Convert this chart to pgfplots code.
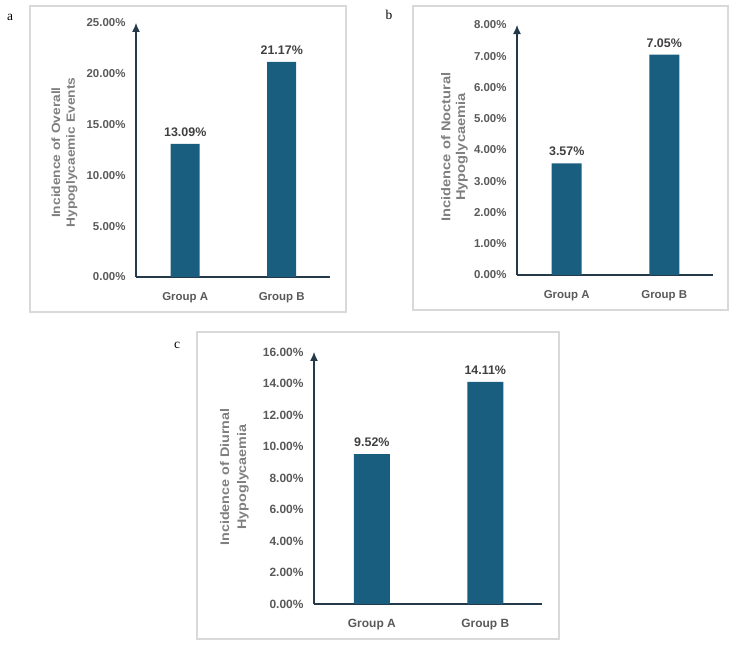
\documentclass[border=0pt]{standalone}
\usepackage{fontspec}
\setmainfont{Liberation Sans}
\newfontfamily\panelfont{Liberation Serif}
\newfontfamily\labelfont[FakeStretch=1.15]{Liberation Sans}
\usepackage{pgfplots}
\pgfplotsset{compat=1.18}
\usetikzlibrary{arrows.meta}

\definecolor{barblue}{HTML}{1A5E7F}
\definecolor{axisdark}{HTML}{24394A}
\definecolor{tickgray}{HTML}{595959}
\definecolor{labelgray}{HTML}{7F7F7F}
\definecolor{valuegray}{HTML}{404040}
\definecolor{framegray}{HTML}{D9D9D9}

\pgfplotsset{
  incidence/.style={
    scale only axis,
    anchor=south west,
    ybar,
    clip=false,
    axis x line*=bottom,
    axis y line*=left,
    x axis line style={-, draw=axisdark, line width=1.2bp},
    y axis line style={-{Latex[length=9bp,width=8bp]}, draw=axisdark, line width=1.2bp},
    major tick length=0pt,
    xmin=-0.51, xmax=1.5,
    xtick={0,1},
    xticklabels={Group A, Group B},
    ymin=0,
    enlarge x limits=false,
    enlarge y limits=false,
    ticklabel style={font=\bfseries\fontsize{11.5}{13}\selectfont, text=tickgray},
    yticklabel={\pgfmathprintnumber[fixed,fixed zerofill,precision=2,assume math mode=true]{\tick}\%},
    yticklabel style={xshift=-7bp},
    xticklabel style={yshift=-12bp},
    ylabel style={font=\labelfont\bfseries\fontsize{12}{15}\selectfont, text=labelgray, align=center, anchor=center},
    nodes near coords={\pgfmathprintnumber[fixed,fixed zerofill,precision=2,assume math mode=true]{\pgfplotspointmeta}\%},
    nodes near coords style={font=\bfseries\fontsize{12.5}{14}\selectfont, text=valuegray, yshift=4bp},
  },
  incidence bars/.style={fill=barblue, draw=none},
}

\begin{document}
\begin{tikzpicture}
  % page extent
  \path (0bp,0bp) rectangle (750bp,657bp);

  % panel frames and letters
  \draw[framegray, line width=1.2bp] (30bp,345bp) rectangle (346bp,651bp);
  \draw[framegray, line width=1.2bp] (413bp,347bp) rectangle (728bp,651bp);
  \draw[framegray, line width=1.2bp] (197bp,18bp) rectangle (559bp,325bp);
  \node[font=\panelfont\fontsize{13.5}{15}\selectfont] at (10bp,640bp) {a};
  \node[font=\panelfont\fontsize{13.5}{15}\selectfont] at (389bp,642bp) {b};
  \node[font=\panelfont\fontsize{13.5}{15}\selectfont] at (177bp,312bp) {c};

  % (a) overall hypoglycaemic events
  \begin{axis}[incidence,
      at={(136bp,380bp)}, width=194bp, height=254bp,
      ymax=25, ytick={0,5,...,25}, bar width=29bp,
      ylabel={Incidence of  Overall\\Hypoglycaemic Events},
      ylabel style={at={(axis description cs:-0.369,0.49)}}]
    \addplot[incidence bars] coordinates {(0,13.09) (1,21.17)};
  \end{axis}

  % (b) nocturnal hypoglycaemia
  \begin{axis}[incidence,
      at={(517bp,382bp)}, width=196bp, height=250bp,
      ymax=8, ytick={0,1,...,8}, bar width=30bp,
      ylabel={Incidence of Noctural\\Hypoglycaemia},
      ylabel style={at={(axis description cs:-0.319,0.512)}, font=\labelfont\bfseries\fontsize{12.8}{15}\selectfont}]
    \addplot[incidence bars] coordinates {(0,3.57) (1,7.05)};
  \end{axis}

  % (c) diurnal hypoglycaemia
  \begin{axis}[incidence,
      at={(314bp,53bp)}, width=228bp, height=252bp,
      ymax=16, ytick={0,2,...,16}, bar width=36bp,
      ticklabel style={font=\bfseries\fontsize{12}{14}\selectfont},
      ylabel={Incidence of Diurnal\\Hypoglycaemia},
      ylabel style={at={(axis description cs:-0.349,0.504)}, font=\labelfont\bfseries\fontsize{12.5}{17}\selectfont}]
    \addplot[incidence bars] coordinates {(0,9.52) (1,14.11)};
  \end{axis}
\end{tikzpicture}
\end{document}
